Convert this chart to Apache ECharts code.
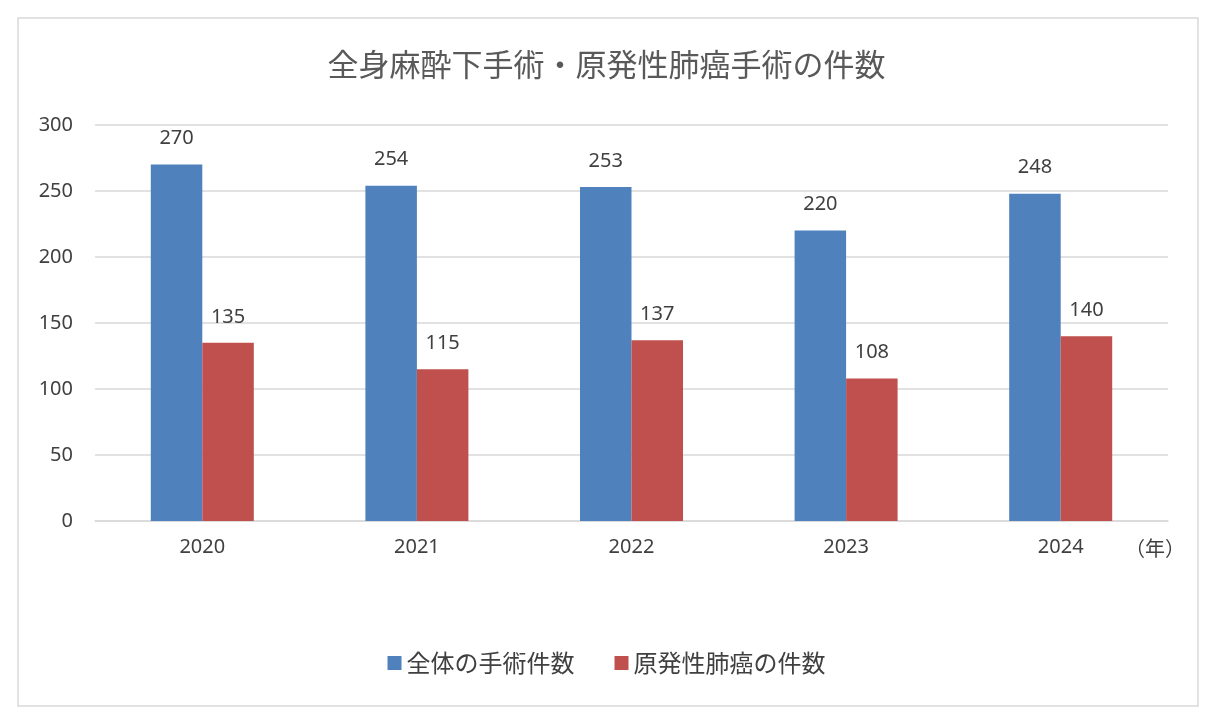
<!DOCTYPE html>
<html><head><meta charset="utf-8">
<script src="https://cdn.jsdelivr.net/npm/echarts@6/dist/echarts.min.js"></script>
<style>html,body{margin:0;padding:0;background:#fff}#c{width:1213px;height:726px}</style>
</head><body><div id="c"></div>
<script>
const categories = ['2020','2021','2022','2023','2024'];
const totalSurgeries = [270,254,253,220,248];
const lungCancer = [135,115,137,108,140];
const seriesNames = ['全体の手術件数','原発性肺癌の件数'];
const font = '"Noto Sans CJK JP", sans-serif';
const chart = echarts.init(document.getElementById('c'));
chart.setOption({
  animation:false,
  textStyle:{fontFamily:font},
  graphic:[
    {type:'rect',shape:{x:18,y:18,width:1180,height:688},style:{fill:'none',stroke:'#d9d9d9',lineWidth:1.5}},
    {type:'text',left:1125,top:538,style:{text:'（年）',font:'20px '+font,fill:'#404040'}}
  ],
  title:{text:'全身麻酔下手術・原発性肺癌手術の件数',left:'center',top:44,textStyle:{fontSize:31,fontWeight:'normal',color:'#595959',fontFamily:font}},
  legend:{bottom:46,itemWidth:14,itemHeight:14,itemGap:40,icon:'rect',textStyle:{fontSize:24,color:'#404040',fontFamily:font},data:seriesNames},
  grid:{left:95,right:45,top:125,bottom:205},
  xAxis:{type:'category',data:categories,axisTick:{show:false},axisLine:{lineStyle:{color:'#d9d9d9',width:1.5}},axisLabel:{fontSize:20,color:'#404040',margin:16,fontFamily:'"Noto Sans", sans-serif'}},
  yAxis:{type:'value',min:0,max:300,interval:50,axisLabel:{fontSize:20,color:'#404040',margin:22,fontFamily:'"Noto Sans", sans-serif'},splitLine:{lineStyle:{color:'#d9d9d9',width:1.5}}},
  series:[
    {name:seriesNames[0],type:'bar',data:totalSurgeries,barWidth:'24%',barGap:'0%',itemStyle:{color:'#4f81bd'},label:{show:true,position:'top',distance:16,fontSize:20,color:'#404040',fontFamily:'"Noto Sans", sans-serif'}},
    {name:seriesNames[1],type:'bar',data:lungCancer,barWidth:'24%',itemStyle:{color:'#c0504d'},label:{show:true,position:'top',distance:16,fontSize:20,color:'#404040',fontFamily:'"Noto Sans", sans-serif'}}
  ]
});
</script></body></html>
